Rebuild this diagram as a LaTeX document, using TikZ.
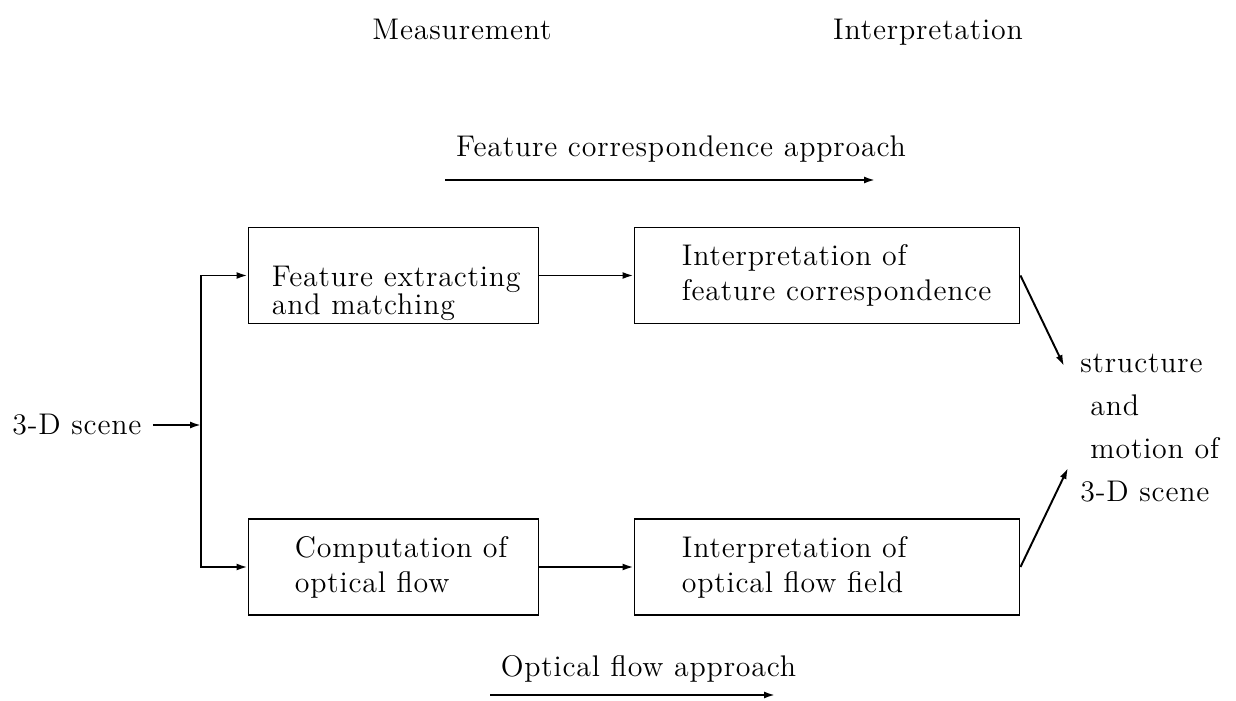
\documentclass[tikz,border=0pt]{standalone}
\usepackage{fontspec}
\setmainfont{lmroman12-regular.otf}[LetterSpace=2.8]
\usepackage{tikz}
\usetikzlibrary{arrows.meta, positioning}
\newcommand{\diagfont}[1][20]{\fontsize{17}{#1}\selectfont}

\begin{document}
\begin{tikzpicture}[
    box/.style={draw, line width=1.1pt, minimum height=1.92cm, inner sep=0pt},
    boxtext/.style={font=\diagfont, align=left, inner sep=0pt, anchor=west},
    headtext/.style={font=\diagfont, inner sep=0pt},
    arr/.style={line width=1.1pt, -{Latex[length=2.2mm, width=1.4mm]}}
]
    \useasboundingbox (0,0) rectangle (24.72,14);

    % Column headings
    \node[headtext, anchor=base] (meas) at (9.24,13.2) {Measurement};
    \node[headtext, anchor=base] (interp) at (18.56,13.2) {Interpretation};

    % Boxes
    \node[box, minimum width=5.8cm] (fem) at (7.87,8.49) {};
    \node[box, minimum width=7.7cm] (ifc) at (16.54,8.49) {};
    \node[box, minimum width=5.8cm] (cof) at (7.87,2.66) {};
    \node[box, minimum width=7.7cm] (iof) at (16.54,2.66) {};

    % Box texts
    \node[boxtext, right=0.48cm of fem.west, yshift=-0.36cm] (femtext) {Feature extracting\\[-4pt]and matching};
    \node[boxtext, right=0.96cm of ifc.west] (ifctext) {Interpretation of\\feature correspondence};
    \node[boxtext, right=0.94cm of cof.west] (coftext) {Computation of\\optical flow};
    \node[boxtext, right=0.96cm of iof.west] (ioftext) {Interpretation of\\optical flow field};

    % Input and result
    \node[headtext, anchor=west, inner xsep=0.22cm] (scene) at (0.02,5.5) {3-D scene};
    \coordinate (split) at (4.02,5.5);
    \node[boxtext, font={\diagfont[24.5]}] (result) at (21.6,5.43) {structure\\\hspace*{0.2cm}and\\\hspace*{0.2cm}motion of\\3-D scene};
    \coordinate (tipa) at (21.28,6.68);
    \coordinate (tipb) at (21.36,4.64);

    % Connections
    \draw[arr] (scene.east) -- (split);
    \draw[arr] (split) |- (fem);
    \draw[arr] (split) |- (cof);
    \draw[arr] (fem) -- (ifc);
    \draw[arr] (cof) -- (iof);
    \draw[arr] (ifc.east) -- (tipa);
    \draw[arr] (iof.east) -- (tipb);

    % Approaches
    \node[headtext, anchor=base] (fca) at (13.62,10.86) {Feature correspondence approach};
    \coordinate (fcaL) at (8.9,10.4);
    \coordinate (fcaR) at (17.5,10.4);
    \draw[arr] (fcaL) -- (fcaR);
    \node[headtext, anchor=base] (ofa) at (12.97,0.48) {Optical flow approach};
    \coordinate (ofaL) at (9.8,0.1);
    \coordinate (ofaR) at (15.5,0.1);
    \draw[arr] (ofaL) -- (ofaR);

\end{tikzpicture}
\end{document}
